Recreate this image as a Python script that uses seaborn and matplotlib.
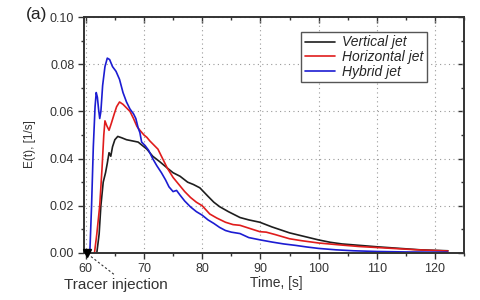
import numpy as np
import pandas as pd
import seaborn as sns
import matplotlib
matplotlib.use("Agg")
import matplotlib.pyplot as plt
from matplotlib.ticker import MultipleLocator, FormatStrFormatter

t_hybrid = [60.7, 61.0, 61.3, 61.6, 61.8, 62.0, 62.2, 62.4, 62.6, 62.9, 63.3, 63.7, 64.1,
            64.6, 65.2, 65.8, 66.4, 67.0, 67.6, 68.2, 68.6, 69.0, 69.3, 69.6, 70.2, 70.8,
            71.5, 72.2, 73.0, 73.7, 74.3, 75.0, 75.6, 76.2, 77.0, 78.0, 79.0, 80.0, 81.0,
            82.0, 83.0, 84.0, 85.0, 86.5, 88.0, 90.0, 92.0, 94.0, 96.0, 98.0, 100.0, 103.0,
            106.0, 110.0, 115.0, 122.2]
e_hybrid = [0.0, 0.02, 0.045, 0.062, 0.068, 0.066, 0.061, 0.057, 0.060, 0.071, 0.079, 0.0826,
            0.082, 0.079, 0.077, 0.0736, 0.068, 0.064, 0.061, 0.059, 0.057, 0.053, 0.051,
            0.047, 0.0455, 0.0435, 0.040, 0.037, 0.034, 0.031, 0.028, 0.026, 0.0265, 0.0245,
            0.022, 0.0195, 0.0175, 0.016, 0.014, 0.0125, 0.0108, 0.0095, 0.0088, 0.0082,
            0.0065, 0.0055, 0.0046, 0.0038, 0.0032, 0.0025, 0.0019, 0.0013, 0.0009, 0.0006,
            0.0004, 0.0003]

t_horiz = [61.5, 61.9, 62.4, 62.8, 63.1, 63.3, 63.6, 64.0, 64.4, 64.9, 65.3, 65.8, 66.4,
           67.0, 67.6, 68.2, 68.8, 69.3, 70.0, 70.5, 71.0, 71.6, 72.4, 73.2, 74.0, 75.0,
           76.0, 77.0, 78.0, 79.0, 80.0, 81.3, 82.5, 84.0, 85.3, 86.5, 88.0, 89.9, 91.0,
           92.5, 95.0, 97.0, 100.0, 103.6, 107.0, 112.0, 117.0, 122.2]
e_horiz = [0.0, 0.008, 0.02, 0.036, 0.050, 0.056, 0.054, 0.052, 0.055, 0.059, 0.062, 0.064,
           0.063, 0.0615, 0.060, 0.057, 0.0536, 0.052, 0.050, 0.049, 0.0475, 0.046, 0.044,
           0.040, 0.036, 0.032, 0.029, 0.026, 0.0235, 0.0215, 0.020, 0.0165, 0.0148, 0.013,
           0.012, 0.0117, 0.0105, 0.009, 0.0088, 0.0078, 0.006, 0.0052, 0.0042, 0.0034,
           0.0027, 0.002, 0.0013, 0.0008]

t_vert = [61.9, 62.3, 62.6, 63.0, 63.4, 63.7, 64.0, 64.3, 64.6, 65.0, 65.5, 66.2, 67.0,
          68.0, 69.0, 70.0, 70.5, 71.5, 72.7, 74.0, 75.0, 76.2, 77.5, 78.5, 79.6, 81.0,
          82.0, 83.0, 84.5, 86.5, 88.0, 89.9, 92.0, 95.0, 97.5, 100.0, 102.0, 104.0,
          107.0, 110.0, 114.0, 117.5, 122.2]
e_vert = [0.0, 0.008, 0.020, 0.030, 0.034, 0.038, 0.0425, 0.041, 0.045, 0.048, 0.0494,
          0.0488, 0.048, 0.0475, 0.047, 0.045, 0.044, 0.041, 0.0387, 0.036, 0.034, 0.0325,
          0.030, 0.029, 0.0276, 0.024, 0.0215, 0.0196, 0.0175, 0.015, 0.014, 0.013, 0.011,
          0.0085, 0.007, 0.0055, 0.0045, 0.0038, 0.0032, 0.0026, 0.0019, 0.0013, 0.0009]

series = {
    "Vertical jet": (t_vert, e_vert, "#1e1e1e"),
    "Horizontal jet": (t_horiz, e_horiz, "#e01c1c"),
    "Hybrid jet": (t_hybrid, e_hybrid, "#1c1cd2"),
}

sns.set_style("ticks")
plt.rcParams["font.family"] = ["Liberation Sans", "DejaVu Sans"]

fig = plt.figure(figsize=(4.8, 3.0), dpi=100)
ax = fig.add_axes([0.175, 0.157, 0.792, 0.786])

for name, (t, e, c) in series.items():
    sns.lineplot(x=t, y=e, ax=ax, color=c, lw=1.2, sort=False, label=name)

ax.set_xlim(59.7, 125)
ax.set_ylim(0, 0.10)
ax.xaxis.set_major_locator(MultipleLocator(10))
ax.xaxis.set_minor_locator(MultipleLocator(5))
ax.yaxis.set_major_locator(MultipleLocator(0.02))
ax.yaxis.set_minor_locator(MultipleLocator(0.01))
ax.yaxis.set_major_formatter(FormatStrFormatter("%.2f"))
ax.grid(True, which="major", ls=(0, (1, 3)), color="#999999", lw=0.8)

for s in ax.spines.values():
    s.set_linewidth(1.4)
    s.set_color("#333333")
ax.tick_params(which="both", labelsize=9, colors="#333333")
ax.tick_params(which="major", length=4, width=1, pad=3)
ax.tick_params(which="minor", length=2.5, width=1)

# inward ticks on the top and right edges
secx = ax.secondary_xaxis("top")
secx.xaxis.set_major_locator(MultipleLocator(10))
secx.xaxis.set_minor_locator(MultipleLocator(5))
secx.tick_params(which="both", direction="in", labeltop=False, colors="#333333", width=1)
secx.tick_params(which="major", length=4)
secx.tick_params(which="minor", length=2.5)
secx.spines["top"].set_visible(False)
secy = ax.secondary_yaxis("right")
secy.yaxis.set_major_locator(MultipleLocator(0.02))
secy.yaxis.set_minor_locator(MultipleLocator(0.01))
secy.tick_params(which="both", direction="in", labelright=False, colors="#333333", width=1)
secy.tick_params(which="major", length=4)
secy.tick_params(which="minor", length=2.5)
secy.spines["right"].set_visible(False)

ax.set_xlabel("Time, [s]", fontsize=10, color="#333333")
ax.xaxis.set_label_coords(0.505, -0.10)
ax.set_ylabel("E(t), [1/s]", fontsize=8.5, color="#333333")
ax.yaxis.set_label_coords(-0.125, 0.46)

leg = ax.legend(loc="upper right", bbox_to_anchor=(0.902, 0.937), fancybox=False,
                framealpha=1, edgecolor="#555555", handlelength=2.2, handletextpad=0.5,
                borderpad=0.25, labelspacing=0.05, borderaxespad=0,
                prop={"style": "italic", "size": 10})
leg.get_frame().set_linewidth(1.0)

# tracer injection marker and annotation
ax.plot([60.2], [0.0], marker="v", color="black", ms=6, clip_on=False, zorder=5)
ax.plot([60.3, 65.0], [-0.0004, -0.0094], ls=(0, (2, 2)), color="#333333", lw=0.8,
        clip_on=False)
ax.text(65.2, -0.0136, "Tracer injection", fontsize=11, color="#333333",
        ha="center", va="center", clip_on=False)

fig.text(0.076, 0.953, "(a)", fontsize=12.5, color="#222222", ha="center", va="center")

fig.savefig("out.png", dpi=100)
